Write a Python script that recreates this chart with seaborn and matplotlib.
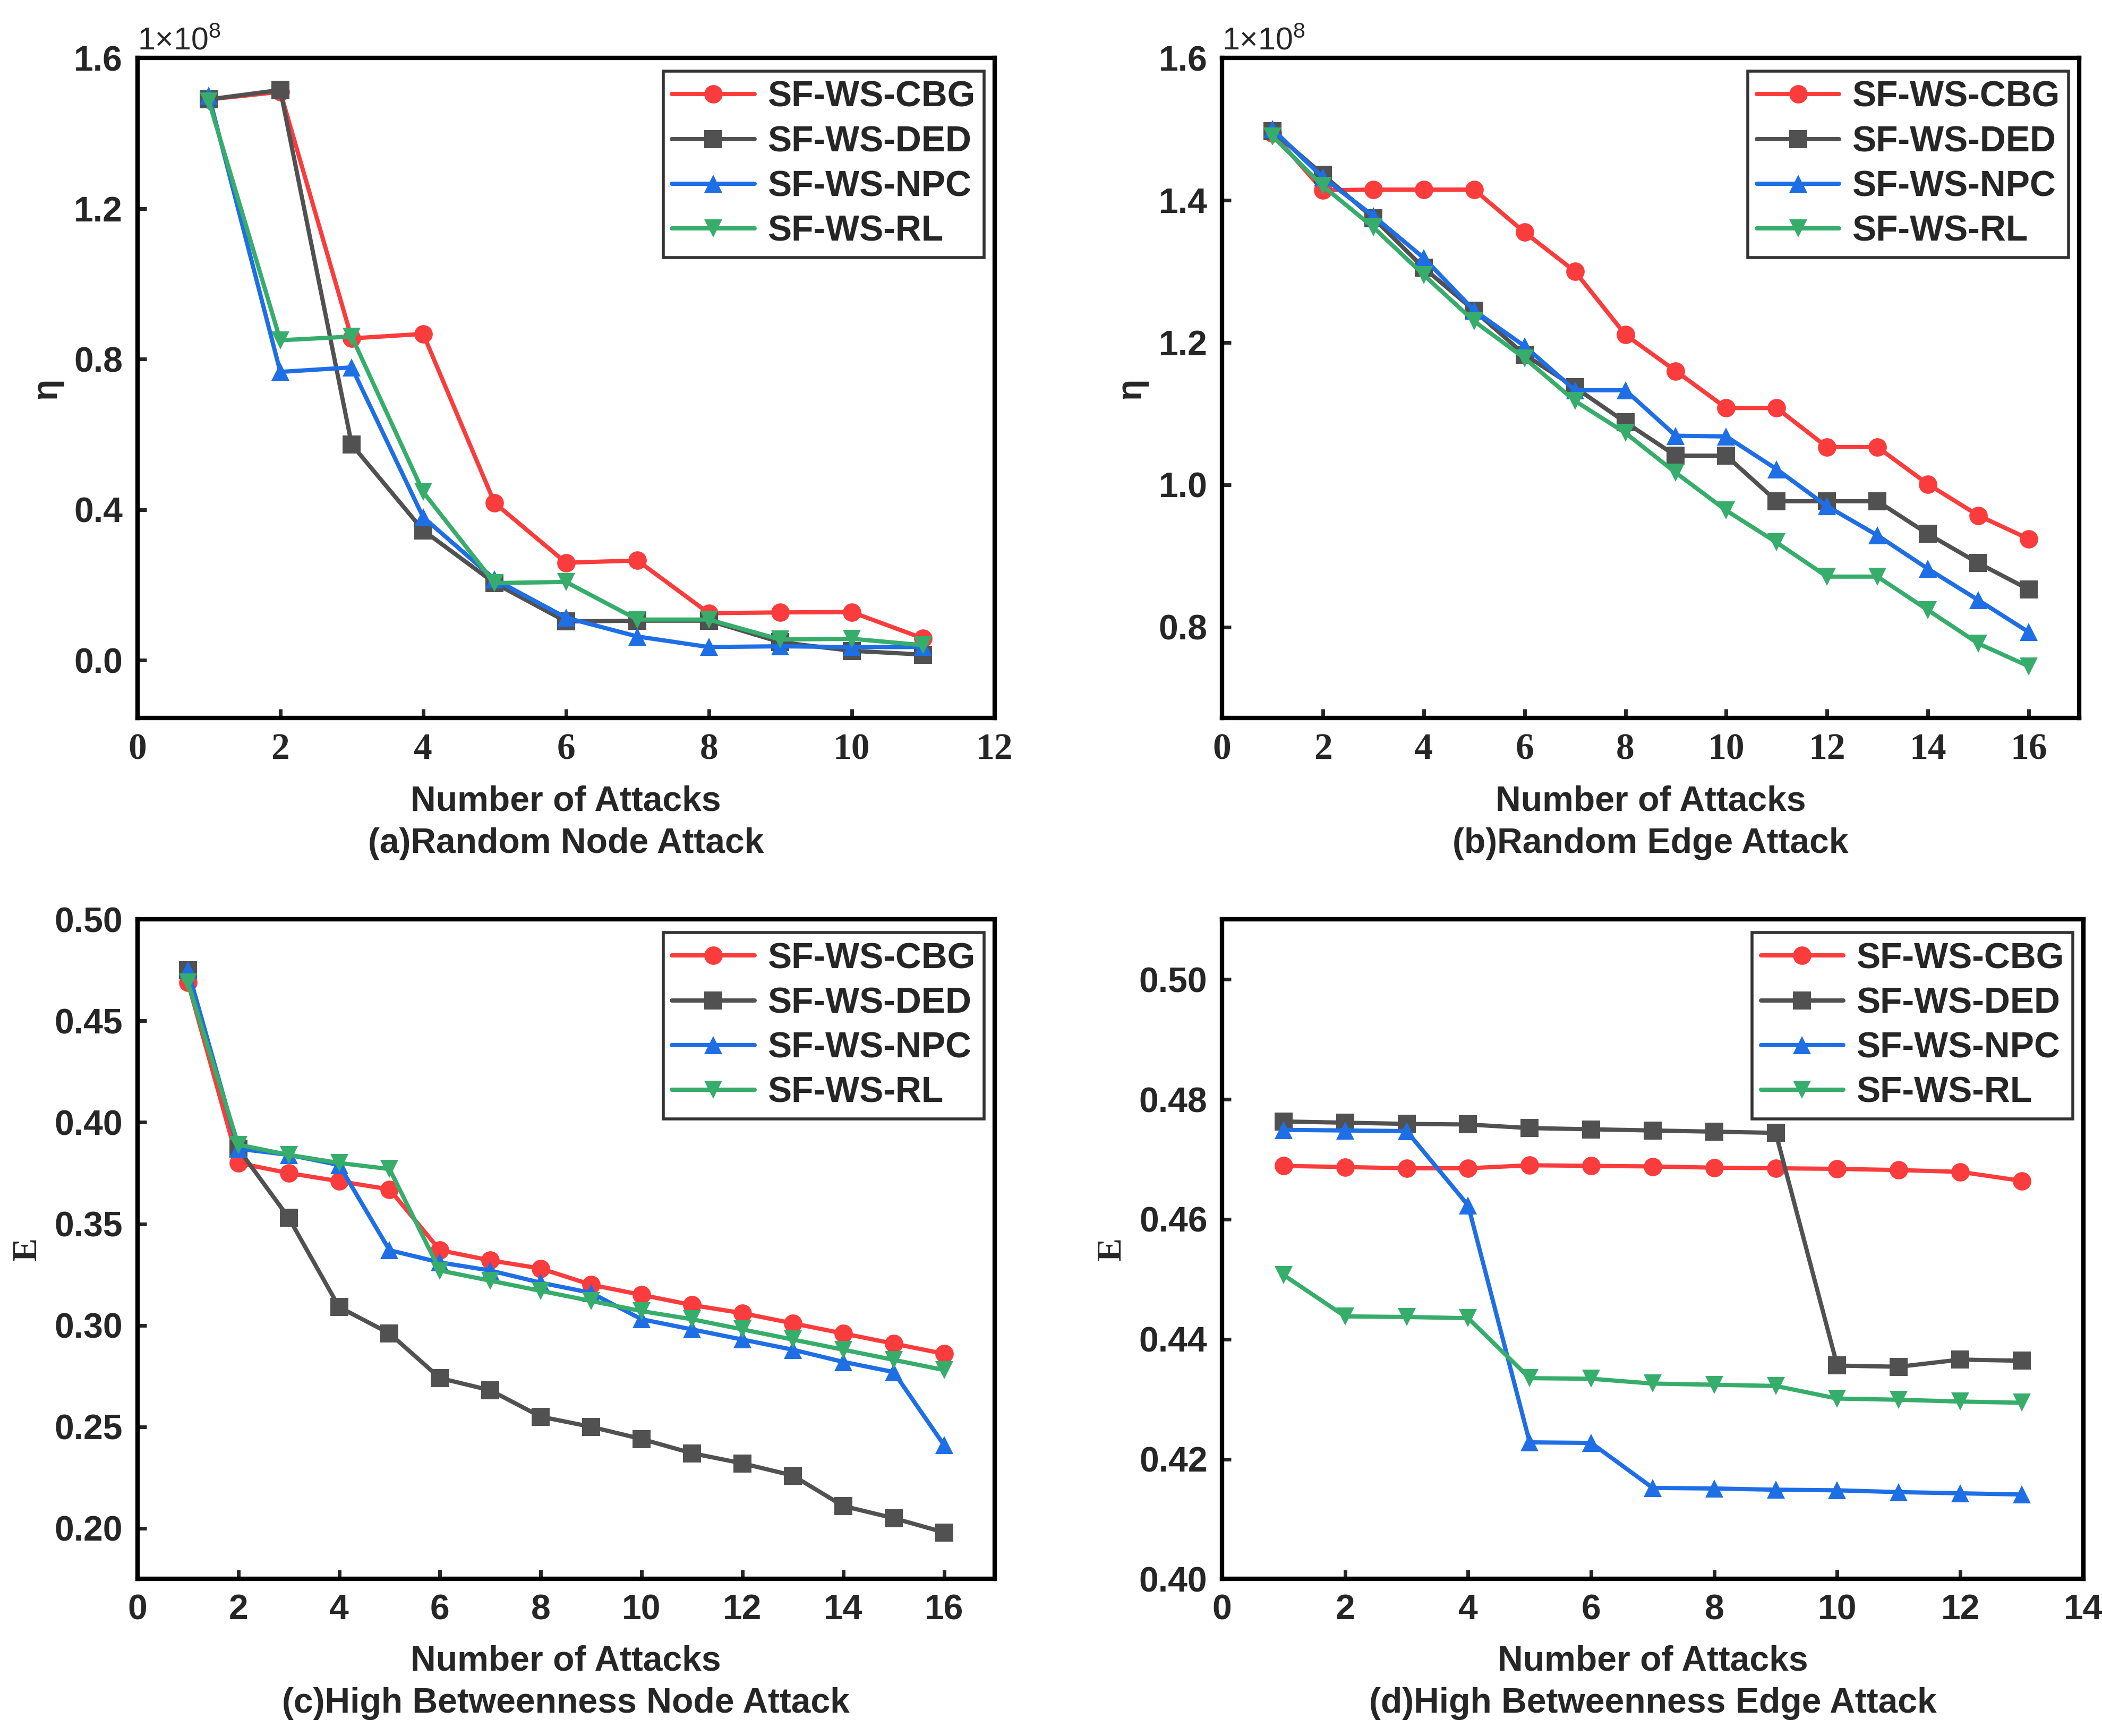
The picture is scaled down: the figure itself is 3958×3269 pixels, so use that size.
import numpy as np
import pandas as pd
import matplotlib
matplotlib.use("Agg")
import matplotlib.pyplot as plt
import seaborn as sns

sns.set_theme(style="white")
plt.rcParams['font.family'] = ['Liberation Sans', 'DejaVu Sans']
plt.rcParams['font.weight'] = 'bold'
plt.rcParams['mathtext.default'] = 'regular'

methods = ['SF-WS-CBG', 'SF-WS-DED', 'SF-WS-NPC', 'SF-WS-RL']
colors = ['#FA3C3C', '#515151', '#1E6EE6', '#37AD6B']
markers = ['o', 's', '^', 'v']

# (a) Random Node Attack, eta in units of 1e8
a_x = list(range(1, 12))
a_cbg = [1.49, 1.51, 0.855, 0.867, 0.418, 0.259, 0.265, 0.125, 0.127, 0.128, 0.058]
a_ded = [1.49, 1.515, 0.573, 0.345, 0.205, 0.103, 0.105, 0.105, 0.048, 0.025, 0.015]
a_npc = [1.50, 0.766, 0.778, 0.38, 0.215, 0.113, 0.063, 0.035, 0.037, 0.035, 0.035]
a_rl = [1.485, 0.85, 0.86, 0.447, 0.205, 0.208, 0.108, 0.108, 0.055, 0.057, 0.04]

# (b) Random Edge Attack, eta in units of 1e8
b_x = list(range(1, 17))
b_cbg = [1.494, 1.414, 1.415, 1.415, 1.415, 1.355, 1.30, 1.211, 1.16, 1.108, 1.108,
         1.053, 1.053, 1.001, 0.957, 0.924]
b_ded = [1.497, 1.436, 1.375, 1.305, 1.245, 1.183, 1.137, 1.088, 1.041, 1.041, 0.977,
         0.977, 0.977, 0.931, 0.890, 0.853]
b_npc = [1.50, 1.432, 1.378, 1.319, 1.245, 1.195, 1.133, 1.133, 1.069, 1.068, 1.022,
         0.970, 0.929, 0.882, 0.838, 0.793]
b_rl = [1.49, 1.42, 1.362, 1.295, 1.23, 1.178, 1.118, 1.073, 1.017, 0.964, 0.919,
        0.871, 0.871, 0.824, 0.777, 0.745]

# (c) High Betweenness Node Attack, E
c_x = list(range(1, 17))
c_cbg = [0.469, 0.380, 0.375, 0.371, 0.367, 0.337, 0.332, 0.328, 0.320, 0.315, 0.310,
         0.306, 0.301, 0.296, 0.291, 0.286]
c_ded = [0.475, 0.387, 0.353, 0.309, 0.296, 0.274, 0.268, 0.255, 0.250, 0.244, 0.237,
         0.232, 0.226, 0.211, 0.205, 0.198]
c_npc = [0.475, 0.387, 0.384, 0.379, 0.337, 0.331, 0.327, 0.321, 0.316, 0.303, 0.298,
         0.293, 0.288, 0.282, 0.277, 0.241]
c_rl = [0.469, 0.389, 0.384, 0.380, 0.377, 0.327, 0.322, 0.317, 0.312, 0.307, 0.303,
        0.298, 0.293, 0.288, 0.283, 0.278]

# (d) High Betweenness Edge Attack, E
d_x = list(range(1, 14))
d_cbg = [0.4689, 0.4687, 0.4685, 0.4685, 0.4690, 0.4689, 0.4688, 0.4686, 0.4685,
         0.4684, 0.4682, 0.4679, 0.4664]
d_ded = [0.4763, 0.4761, 0.4759, 0.4758, 0.4752, 0.4750, 0.4748, 0.4746, 0.4744,
         0.4356, 0.4354, 0.4366, 0.4364]
d_npc = [0.4749, 0.4748, 0.4747, 0.4623, 0.4228, 0.4227, 0.4152, 0.4151, 0.4149,
         0.4148, 0.4145, 0.4143, 0.4141]
d_rl = [0.4507, 0.4438, 0.4437, 0.4435, 0.4335, 0.4334, 0.4326, 0.4324, 0.4322,
        0.4301, 0.4299, 0.4296, 0.4294]


def make_df(x, series):
    rows = []
    for name, vals in zip(methods, series):
        for xi, v in zip(x, vals):
            rows.append({'x': xi, 'y': v, 'method': name})
    return pd.DataFrame(rows)


panels = [
    dict(df=make_df(a_x, [a_cbg, a_ded, a_npc, a_rl]), xlim=(0, 12), xticks=range(0, 13, 2),
         ylim=(-0.154, 1.6), yticks=[0.0, 0.4, 0.8, 1.2, 1.6], yfmt='{:.1f}', ylab='η',
         ylabfont='Liberation Sans', xtickfont='Liberation Serif', offset=True,
         caption='(a)Random Node Attack', pos=[0.0654, 0.5863, 0.4077, 0.3803]),
    dict(df=make_df(b_x, [b_cbg, b_ded, b_npc, b_rl]), xlim=(0, 17), xticks=range(0, 17, 2),
         ylim=(0.672, 1.6), yticks=[0.8, 1.0, 1.2, 1.4, 1.6], yfmt='{:.1f}', ylab='η',
         ylabfont='Liberation Sans', xtickfont='Liberation Serif', offset=True,
         caption='(b)Random Edge Attack', pos=[0.5814, 0.5863, 0.4077, 0.3803]),
    dict(df=make_df(c_x, [c_cbg, c_ded, c_npc, c_rl]), xlim=(0, 17), xticks=range(0, 17, 2),
         ylim=(0.175, 0.50), yticks=[0.20, 0.25, 0.30, 0.35, 0.40, 0.45, 0.50], yfmt='{:.2f}',
         ylab='E', ylabfont='Liberation Serif', xtickfont=None, offset=False,
         caption='(c)High Betweenness Node Attack', pos=[0.0654, 0.0904, 0.4077, 0.3800]),
    dict(df=make_df(d_x, [d_cbg, d_ded, d_npc, d_rl]), xlim=(0, 14), xticks=range(0, 15, 2),
         ylim=(0.40, 0.51), yticks=[0.40, 0.42, 0.44, 0.46, 0.48, 0.50], yfmt='{:.2f}',
         ylab='E', ylabfont='Liberation Serif', xtickfont=None, offset=False,
         caption='(d)High Betweenness Edge Attack', pos=[0.5814, 0.0904, 0.4097, 0.3800]),
]

fig = plt.figure(figsize=(15.832, 13.076), dpi=250)

for p in panels:
    ax = fig.add_axes(p['pos'])
    sns.lineplot(data=p['df'], x='x', y='y', hue='method', style='method',
                 palette=colors, markers=markers, dashes=False, hue_order=methods,
                 style_order=methods, linewidth=2.3, markersize=10, markeredgewidth=0,
                 ax=ax)
    ax.set_xlim(*p['xlim'])
    ax.set_ylim(*p['ylim'])
    ax.set_xticks(list(p['xticks']))
    ax.set_yticks(p['yticks'])
    ax.set_yticklabels([p['yfmt'].format(v) for v in p['yticks']])
    for s in ax.spines.values():
        s.set_visible(True)
        s.set_linewidth(2.4)
        s.set_color('black')
    ax.tick_params(direction='in', length=5, width=2.0, labelsize=19, pad=8,
                   bottom=True, left=True, top=False, right=False)
    for lab in ax.get_yticklabels():
        lab.set_fontweight('bold')
    for lab in ax.get_xticklabels():
        lab.set_fontweight('bold')
        if p['xtickfont']:
            lab.set_family(p['xtickfont'])
            lab.set_fontsize(20)
    ax.set_xlabel('Number of Attacks\n' + p['caption'], fontsize=19, fontweight='bold',
                  labelpad=10, linespacing=1.35)
    ax.set_ylabel(p['ylab'], fontsize=19, fontweight='bold', family=p['ylabfont'],
                  labelpad=6)
    if p['offset']:
        ax.text(0.0, 1.003, r'1×10$^{8}$', transform=ax.transAxes, fontsize=17,
                fontweight='normal', va='bottom', ha='left')
    leg = ax.legend(loc='upper right', fontsize=19.5, frameon=True, fancybox=False,
                    edgecolor='black', handlelength=2.3, handletextpad=0.35,
                    borderpad=0.25, labelspacing=0.3, borderaxespad=0,
                    bbox_to_anchor=(0.988, 0.98))
    leg.get_frame().set_linewidth(1.6)
    for t in leg.get_texts():
        t.set_fontweight('bold')
    for h in leg.legend_handles:
        h.set_linewidth(2.3)
        h.set_markersize(10)

fig.savefig('out.png', dpi=250)
